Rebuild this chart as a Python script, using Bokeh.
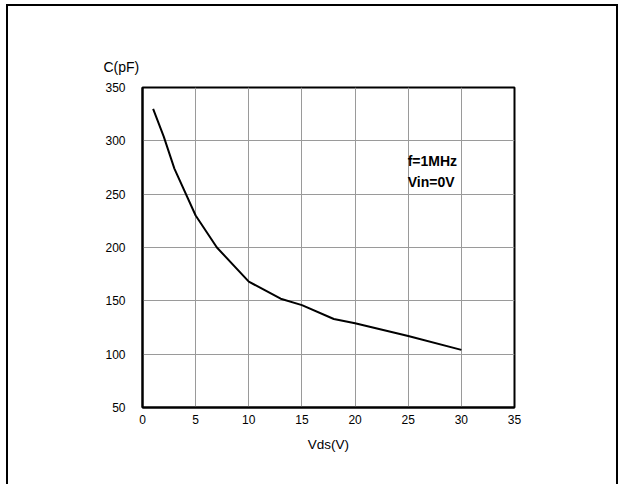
from bokeh.plotting import figure
from bokeh.models import Range1d, Label, FixedTicker, ColumnDataSource, Title
from bokeh.embed import file_html
from bokeh.resources import INLINE

# Data
vds = [1, 2, 3, 5, 7, 10, 13, 15, 18, 20, 25, 30]
cap = [330, 304, 274, 230, 200, 168, 152, 146, 133, 129, 117, 104]
x_ticks = [0, 5, 10, 15, 20, 25, 30, 35]
y_ticks = [50, 100, 150, 200, 250, 300, 350]
notes = ["f=1MHz", "Vin=0V"]

FONT = "Liberation Sans"

p = figure(width=612, height=480, output_backend="svg", toolbar_location=None,
           x_range=Range1d(0, 35), y_range=Range1d(50, 350),
           min_border_left=134, min_border_right=106,
           min_border_top=81, min_border_bottom=79)
p.styles = {"margin-left": "6px", "margin-top": "4px",
            "border-left": "2px solid black", "border-top": "2px solid black",
            "border-right": "2px solid black"}
p.background_fill_color = "white"
p.border_fill_color = "white"
p.outline_line_color = "black"
p.outline_line_width = 2

for ax in (p.xaxis[0], p.yaxis[0]):
    ax.major_label_text_font = FONT
    ax.major_label_text_font_size = "12px"
    ax.major_label_text_color = "black"
    ax.major_tick_line_color = None
    ax.minor_tick_line_color = None
    ax.axis_line_color = "black"
    ax.axis_line_width = 2

p.xaxis[0].ticker = FixedTicker(ticks=x_ticks)
p.yaxis[0].ticker = FixedTicker(ticks=y_ticks)
p.xaxis[0].major_label_standoff = 1
p.yaxis[0].major_label_standoff = 11
p.xaxis[0].axis_label = "Vds(V)"
p.xaxis[0].axis_label_text_font = FONT
p.xaxis[0].axis_label_text_font_size = "13.5px"
p.xaxis[0].axis_label_text_font_style = "normal"
p.xaxis[0].axis_label_text_color = "black"
p.xaxis[0].axis_label_standoff = 10

p.xgrid.ticker = FixedTicker(ticks=x_ticks)
p.ygrid.ticker = FixedTicker(ticks=y_ticks)
p.xgrid.grid_line_color = "#9a9a9a"
p.ygrid.grid_line_color = "#9a9a9a"
p.xgrid.grid_line_width = 1
p.ygrid.grid_line_width = 1

src = ColumnDataSource(dict(x=vds, y=cap))
p.line("x", "y", source=src, line_color="black", line_width=2)

# y-axis caption "C(pF)" placed above the plot, left of the frame
p.add_layout(Title(text="C(pF)", align="left", offset=-39, standoff=25,
                   text_font=FONT, text_font_size="14px",
                   text_font_style="normal", text_color="black"), "above")

p.add_layout(Label(x=24.95, y=281.5, text=notes[0], text_font=FONT,
                   text_font_size="14px", text_font_style="bold",
                   text_baseline="middle", text_color="black"))
p.add_layout(Label(x=24.95, y=261, text=notes[1], text_font=FONT,
                   text_font_size="14px", text_font_style="bold",
                   text_baseline="middle", text_color="black"))

open("out.html", "w").write(file_html(p, INLINE))
